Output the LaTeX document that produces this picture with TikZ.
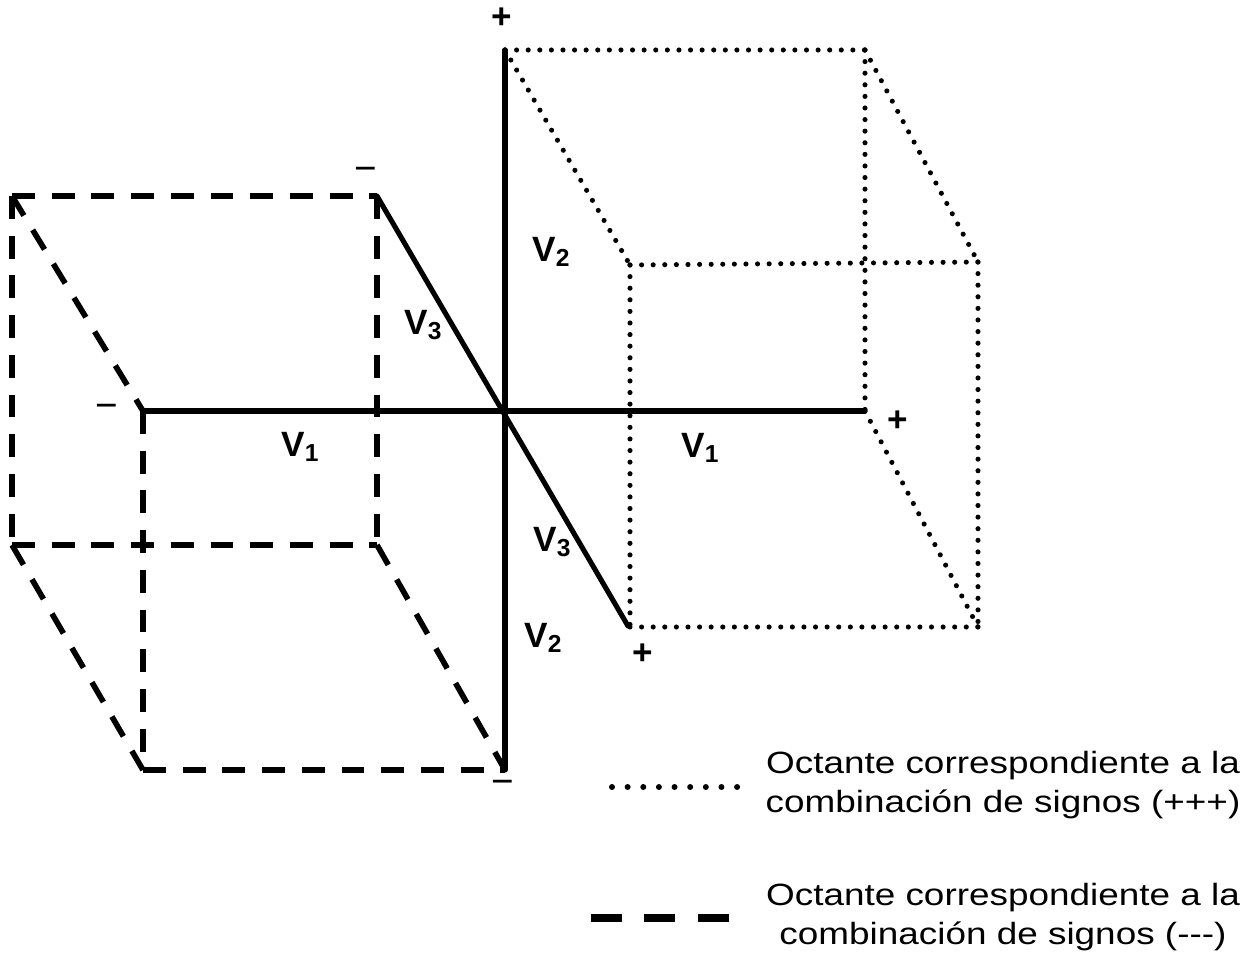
\documentclass[tikz,border=0pt]{standalone}
\usepackage{fontspec}
\setmainfont{Liberation Sans}
\newfontfamily\legendfont[FakeStretch=1.2]{Liberation Sans}
\usetikzlibrary{calc}
\tikzset{
  axisline/.style={line width=2.9pt, line cap=round},
  negedge/.style={line width=3.2pt, dash pattern=on 13pt off 9.6pt},
  posedge/.style={line width=2.9pt, line cap=round, dash pattern=on 0pt off 6.6pt},
  axlabel/.style={font=\fontsize{20}{20}\selectfont\bfseries, inner sep=0pt},
  signlabel/.style={font=\fontsize{20}{20}\selectfont\bfseries, inner sep=0pt},
  legendtext/.style={font=\fontsize{17.5}{22.7}\selectfont\legendfont, align=center, inner sep=0pt}
}
\newcommand{\vsub}[1]{V\raisebox{-0.12em}{\fontsize{14}{14}\selectfont #1}}

\begin{document}
\begin{tikzpicture}[x=0.02cm, y=-0.02cm]
  \useasboundingbox (0,0) rectangle (1255,960);
  % axes
  \coordinate (O) at (505,411);
  \coordinate (v2top) at (505,50);
  \coordinate (v2bot) at (505,770);
  \coordinate (v1left) at (143,411);
  \coordinate (v1right) at (865,411);
  \coordinate (v3neg) at (377,196);
  \coordinate (v3pos) at (628,626);
  % octant (+++)
  \coordinate (pA) at (865,50);
  \coordinate (pB) at (630,265);
  \coordinate (pC) at (978,262);
  \coordinate (pD) at (978,627);
  \coordinate (pE) at (630,627);
  % octant (---)
  \coordinate (nA) at (12,196);
  \coordinate (nB) at (377,545);
  \coordinate (nC) at (12,545);
  \coordinate (nD) at (143,770);

  \draw[posedge] (v2top) -- (pA);
  \draw[posedge] (v2top) -- (pB);
  \draw[posedge] (pA) -- (v1right);
  \draw[posedge] (pA) -- (pC);
  \draw[posedge] (pB) -- (pC);
  \draw[posedge] (pB) -- (pE);
  \draw[posedge] (pC) -- (pD);
  \draw[posedge] (pE) -- (pD);
  \draw[posedge] (v1right) -- (pD);

  \draw[negedge] (nA) -- (v3neg);
  \draw[negedge] (nA) -- (nC);
  \draw[negedge] (v3neg) -- (nB);
  \draw[negedge] (nC) -- (nB);
  \draw[negedge] (nA) -- (v1left);
  \draw[negedge] (v1left) -- (nD);
  \draw[negedge] (nD) -- (v2bot);
  \draw[negedge] (nC) -- (nD);
  \draw[negedge] (nB) -- (v2bot);

  \draw[axisline] (v2top) -- (v2bot);
  \draw[axisline] (v1left) -- (v1right);
  \draw[axisline] (v3neg) -- (v3pos);

  \node[axlabel] (v2up) at (551,252) {\vsub{2}};
  \node[axlabel] (v2down) at (543,638) {\vsub{2}};
  \node[axlabel] (v3up) at (423,325) {\vsub{3}};
  \node[axlabel] (v3down) at (552,542) {\vsub{3}};
  \node[axlabel] (v1l) at (300,447) {\vsub{1}};
  \node[axlabel] (v1r) at (700,448) {\vsub{1}};

  \node[signlabel] (s2p) at (502,18) {+};
  \node[signlabel] (s1p) at (898,421) {+};
  \node[signlabel] (s3p) at (643,654) {+};
  \node[signlabel, font=\fontsize{22}{22}\selectfont] (s3n) at (366,174) {−};
  \node[signlabel, font=\fontsize{22}{22}\selectfont] (s1n) at (107,411) {−};
  \node[signlabel, font=\fontsize{22}{22}\selectfont] (s2n) at (503,787) {−};

  % legend
  \coordinate (lgPa) at (612,787);
  \coordinate (lgPb) at (738,787);
  \coordinate (lgNa) at (591,918);
  \coordinate (lgNb) at (730,918);
  \draw[line width=3.4pt, line cap=round, dash pattern=on 0pt off 8.9pt] (lgPa) -- (lgPb);
  \draw[line width=4pt, dash pattern=on 17.6pt off 12.8pt] (lgNa) -- (lgNb);
  \node[legendtext] (lgP) at (1003,785) {Octante correspondiente a la\\combinación de signos (+++)};
  \node[legendtext] (lgN) at (1003,917) {Octante correspondiente a la\\combinación de signos (---)};
\end{tikzpicture}
\end{document}
